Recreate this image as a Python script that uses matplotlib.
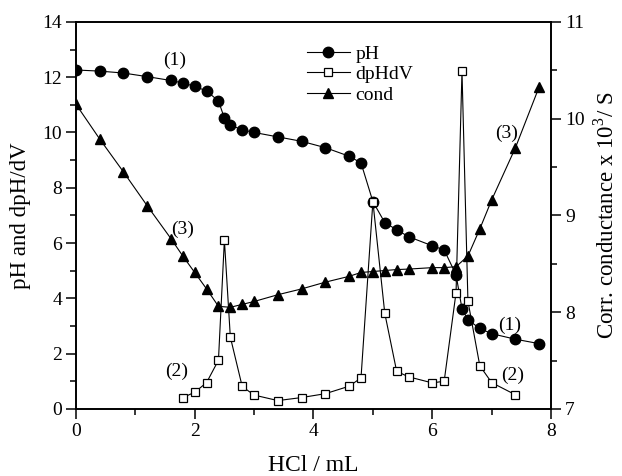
import matplotlib
matplotlib.use("Agg")
import matplotlib.pyplot as plt
from matplotlib.ticker import MultipleLocator

plt.rcParams['font.family'] = ['Liberation Serif', 'DejaVu Serif']
plt.rcParams['mathtext.fontset'] = 'custom'
plt.rcParams['mathtext.rm'] = 'Liberation Serif'

# pH curve
ph_x = [0.0, 0.4, 0.8, 1.2, 1.6, 1.8, 2.0, 2.2, 2.4, 2.5, 2.6, 2.8, 3.0, 3.4, 3.8,
        4.2, 4.6, 4.8, 5.0, 5.2, 5.4, 5.6, 6.0, 6.2, 6.4, 6.5, 6.6, 6.8, 7.0, 7.4, 7.8]
ph_y = [12.26, 12.22, 12.15, 12.02, 11.88, 11.79, 11.67, 11.50, 11.14, 10.52, 10.26,
        10.10, 10.00, 9.84, 9.68, 9.45, 9.14, 8.90, 7.50, 6.74, 6.48, 6.23, 5.90, 5.75,
        4.85, 3.62, 3.22, 2.91, 2.72, 2.52, 2.36]

# derivative curve
d_x = [1.8, 2.0, 2.2, 2.4, 2.5, 2.6, 2.8, 3.0, 3.4, 3.8, 4.2, 4.6, 4.8, 5.0, 5.2,
       5.4, 5.6, 6.0, 6.2, 6.4, 6.5, 6.6, 6.8, 7.0, 7.4]
d_y = [0.41, 0.60, 0.95, 1.76, 6.11, 2.60, 0.81, 0.50, 0.30, 0.41, 0.55, 0.82, 1.12,
       7.50, 3.46, 1.36, 1.16, 0.94, 1.00, 4.21, 12.21, 3.90, 1.56, 0.95, 0.51]

# conductance
c_x = [0.0, 0.4, 0.8, 1.2, 1.6, 1.8, 2.0, 2.2, 2.4, 2.6, 2.8, 3.0, 3.4, 3.8, 4.2,
       4.6, 4.8, 5.0, 5.2, 5.4, 5.6, 6.0, 6.2, 6.4, 6.6, 6.8, 7.0, 7.4, 7.8]
c_y = [10.15, 9.79, 9.45, 9.10, 8.76, 8.58, 8.41, 8.24, 8.06, 8.05, 8.08, 8.11, 8.18,
       8.24, 8.31, 8.37, 8.41, 8.42, 8.43, 8.44, 8.445, 8.46, 8.46, 8.47, 8.58, 8.86,
       9.16, 9.70, 10.33]

fig = plt.figure(figsize=(6.22, 4.76), dpi=100)
ax = fig.add_axes([0.122, 0.141, 0.764, 0.813])
ax2 = ax.twinx()

l1, = ax.plot(ph_x, ph_y, '-', color='black', lw=0.8, marker='o', ms=7.5,
              mfc='black', mec='black', label='pH', zorder=3)
l2, = ax.plot(d_x, d_y, '-', color='black', lw=0.8, marker='s', ms=5.5,
              mfc='white', mec='black', mew=0.9, label='dpHdV', zorder=4)
l3, = ax2.plot(c_x, c_y, '-', color='black', lw=0.8, marker='^', ms=7.5,
               mfc='black', mec='black', label='cond', zorder=3)

ax.set_xlim(0, 8)
ax.set_ylim(0, 14)
ax2.set_ylim(7, 11)

ax.xaxis.set_major_locator(MultipleLocator(2))
ax.xaxis.set_minor_locator(MultipleLocator(1))
ax.yaxis.set_major_locator(MultipleLocator(2))
ax.yaxis.set_minor_locator(MultipleLocator(1))
ax2.yaxis.set_major_locator(MultipleLocator(1))
ax2.yaxis.set_minor_locator(MultipleLocator(0.5))

for a in (ax, ax2):
    for s in a.spines.values():
        s.set_linewidth(1.2)

ax.tick_params(axis='both', which='major', direction='out', length=7, width=1.1,
               labelsize=14, top=False, right=False, pad=3)
ax.tick_params(axis='both', which='minor', direction='out', length=4, width=1.1,
               top=False, right=False)
ax2.tick_params(axis='y', which='major', direction='out', length=7, width=1.1,
                labelsize=14, pad=3)
ax2.tick_params(axis='y', which='minor', direction='out', length=4, width=1.1)
ax2.tick_params(axis='x', which='both', top=True, bottom=False, labeltop=False,
                labelbottom=False, direction='in', width=1.1)
ax2.tick_params(axis='x', which='major', length=7)
ax2.tick_params(axis='x', which='minor', length=4)

ax.set_xlabel('HCl / mL', fontsize=17, labelpad=11)
ax.set_ylabel('pH and dpH/dV', fontsize=16.5, labelpad=8)
ax2.set_ylabel(r'Corr. conductance x 10$^{3}$/ S', fontsize=16.5, labelpad=7)

leg = ax.legend(handles=[l1, l2, l3], loc='upper left',
                bbox_to_anchor=(0.47, 0.96), frameon=False, fontsize=14,
                handlelength=2.2, handletextpad=0.3, labelspacing=0.15,
                borderaxespad=0)

fs = 14
ax.text(1.67, 12.6, '(1)', fontsize=fs, ha='center', va='center')
ax.text(1.8, 6.5, '(3)', fontsize=fs, ha='center', va='center')
ax.text(1.7, 1.35, '(2)', fontsize=fs, ha='center', va='center')
ax.text(7.25, 9.97, '(3)', fontsize=fs, ha='center', va='center')
ax.text(7.3, 3.04, '(1)', fontsize=fs, ha='center', va='center')
ax.text(7.35, 1.2, '(2)', fontsize=fs, ha='center', va='center')

ax.set_zorder(ax2.get_zorder() + 1)
ax.patch.set_visible(False)

fig.savefig('out.png', dpi=100)
